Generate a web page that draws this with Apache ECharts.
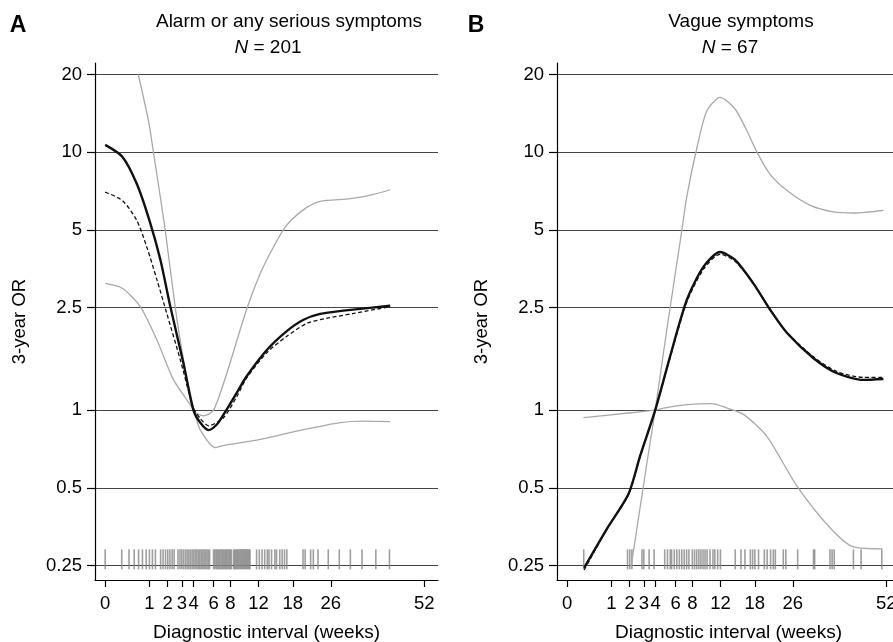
<!DOCTYPE html>
<html><head><meta charset="utf-8">
<script src="https://cdn.jsdelivr.net/npm/echarts@6/dist/echarts.min.js"></script>
<style>html,body{margin:0;padding:0;background:#fff}#c{width:893px;height:642px}</style>
</head><body><div id="c"></div>
<script>
// ---- tick labels ----
const xTickWeeks = [0, 1, 2, 3, 4, 6, 8, 12, 18, 26, 52];
const yTickOR = [0.25, 0.5, 1, 2.5, 5, 10, 20];

// ---- Panel A: Alarm or any serious symptoms (weeks, OR) ----
const aSolid = [[0,10.67],[0.15,9.6],[0.51,7.54],[1.0,5.44],[1.56,3.82],[2.17,2.52],[3.13,1.52],[3.98,1.0],[4.61,0.895],[5.45,0.837],[6.37,0.88],[7.15,0.96],[8.86,1.17],[10.2,1.35],[13.35,1.71],[16.8,2.02],[20.1,2.24],[23.6,2.36],[29,2.43],[41.5,2.54]];
const aDashed = [[0,7.0],[0.15,6.5],[0.51,5.44],[0.88,4.3],[1.37,3.2],[1.94,2.37],[2.88,1.57],[3.98,1.02],[4.61,0.93],[5.45,0.87],[7.15,0.935],[8.86,1.13],[10.2,1.33],[13.35,1.67],[16.8,1.93],[20.8,2.17],[25.1,2.27],[31.5,2.37],[41.5,2.52]];
const aUpper = [[0.56,20],[0.96,13.2],[1.19,10],[1.84,5.0],[2.5,2.52],[3.13,1.57],[3.98,1.0],[4.94,0.95],[6.0,1.0],[7.56,1.39],[10.2,2.45],[12.3,3.39],[14.5,4.3],[16.8,5.2],[20.4,6.04],[23.6,6.45],[30.7,6.6],[36.8,6.86],[41.5,7.15]];
const aLower = [[0,3.1],[0.15,2.97],[0.63,2.52],[1.37,1.87],[2.39,1.31],[3.98,1.0],[4.61,0.84],[6.2,0.716],[6.96,0.727],[12.3,0.77],[20.1,0.84],[28.2,0.895],[34.1,0.907],[41.5,0.902]];
const aRug = [0,0.14,0.29,0.43,0.57,0.71,0.86,1.0,1.14,1.29,1.57,1.71,
  1.86,2.0,2.14,2.29,2.43,2.71,2.86,3.0,3.14,3.29,3.43,3.57,3.71,3.86,4.0,4.14,4.29,4.43,4.57,4.71,4.86,5.0,5.14,5.29,5.43,5.57,
  6.0,6.14,6.29,6.43,6.57,6.71,6.86,7.0,7.14,7.29,7.43,7.57,7.71,7.86,8.0,8.14,8.43,8.57,8.71,8.86,9.0,9.14,9.29,9.43,9.57,9.71,9.86,10.0,10.14,10.29,10.43,10.57,10.71,
  11.71,12.14,12.57,13.0,13.43,13.71,14.14,14.71,15.0,15.57,16.0,16.43,16.86,20.0,20.43,21.57,22.14,23.14,25.43,28.0,30.71,33.71,37.43,41.29];

// ---- Panel B: Vague symptoms (weeks, OR) ----
const bSolid = [[0.148,0.245],[0.80,0.346],[1.92,0.473],[2.72,0.665],[3.96,1.0],[5.42,1.62],[7.3,2.67],[9.5,3.6],[11.96,4.1],[14.4,3.82],[17.7,3.1],[21.05,2.45],[24.7,1.99],[31,1.59],[37.2,1.39],[44.9,1.31],[51.1,1.32]];
const bDashed = [[0.148,0.24],[0.80,0.345],[1.92,0.47],[2.72,0.66],[3.96,1.0],[5.42,1.6],[7.3,2.62],[9.5,3.52],[11.96,4.02],[14.4,3.78],[17.7,3.1],[21.05,2.46],[24.7,2.0],[31,1.61],[37.2,1.41],[44.9,1.34],[51.1,1.34]];
const bUpper = [[2.09,0.248],[2.72,0.42],[3.35,0.67],[3.96,1.0],[5.07,2.05],[6.72,4.98],[7.3,6.7],[8.6,10.4],[9.98,14.5],[11.96,16.3],[14.4,14.7],[16.5,12.1],[18.4,10.0],[21.05,8.2],[24.7,7.1],[30.2,6.22],[36.2,5.87],[41.9,5.81],[51.1,5.95]];
const bLower = [[0.136,0.935],[2.03,0.977],[3.96,1.0],[4.9,1.02],[7.3,1.05],[10.7,1.06],[13.0,1.02],[15.9,0.963],[20.4,0.79],[26.9,0.51],[35.3,0.35],[41.9,0.295],[50.8,0.29]];
const bRug = [0.14,1.86,2.0,2.14,2.86,3.0,3.43,3.86,4.86,5.14,5.43,5.57,5.86,6.14,6.43,6.71,7.0,7.29,7.57,8.0,8.29,8.57,8.86,9.14,9.43,9.71,10.0,10.43,10.86,11.14,11.57,12.0,
  14.43,15.43,16.14,17.14,17.57,18.0,18.71,19.86,20.43,21.14,21.71,22.14,23.86,24.43,27.14,31.0,31.29,35.29,35.86,36.43,41.86,44.14,50.57];

// ---- transforms: sqrt for weeks, log2 for odds ratio ----
const tx = w => Math.sqrt(w);
const ty = v => Math.log2(v);
const pts = arr => arr.map(p => [tx(p[0]), ty(p[1])]);
const RUG_LEVEL = 0.264;
const rugPts = arr => arr.map(w => [tx(w), ty(RUG_LEVEL)]);

const FONT = "'Liberation Sans', Arial, Helvetica, sans-serif";
const GRAY = '#a9a9a9';

function xAxisCfg(gi) {
  return {
    type: 'value', gridIndex: gi, min: -0.23, max: 7.523,
    name: 'Diagnostic interval (weeks)', nameLocation: 'middle', nameGap: 43,
    nameTextStyle: { fontSize: 19, color: '#000', fontFamily: FONT },
    axisLine: { show: true, onZero: false, lineStyle: { color: '#000', width: 1.2 } },
    axisTick: { show: true, length: 7, customValues: xTickWeeks.map(tx), lineStyle: { color: '#000', width: 1.2 } },
    axisLabel: { customValues: xTickWeeks.map(tx), margin: 14, fontSize: 18.5, color: '#000', fontFamily: FONT,
      formatter: v => String(Math.round(v * v)) , hideOverlap: false },
    splitLine: { show: false }
  };
}
function yAxisCfg(gi) {
  return {
    type: 'value', gridIndex: gi, min: -2.187, max: 4.47,
    name: '3-year OR', nameLocation: 'middle', nameGap: 66,
    nameTextStyle: { fontSize: 18.5, color: '#000', fontFamily: FONT },
    axisLine: { show: true, onZero: false, lineStyle: { color: '#000', width: 1.2 } },
    axisTick: { show: true, length: 8, customValues: yTickOR.map(ty), lineStyle: { color: '#000', width: 1.2 } },
    axisLabel: { customValues: yTickOR.map(ty), margin: 13, fontSize: 18.5, color: '#000', fontFamily: FONT,
      formatter: v => { let best = yTickOR[0]; yTickOR.forEach(t => { if (Math.abs(ty(t) - v) < Math.abs(ty(best) - v)) best = t; }); return String(best); } },
    splitLine: { show: true, lineStyle: { color: '#444', width: 1.2 } }
  };
}
function lineS(data, gi, color, width, type) {
  return { type: 'line', xAxisIndex: gi, yAxisIndex: gi, data: pts(data), showSymbol: false, smooth: 0.25,
    lineStyle: { color, width, type }, silent: true, z: 3 };
}
function rugS(data, gi) {
  return { type: 'scatter', xAxisIndex: gi, yAxisIndex: gi, data: rugPts(data), symbol: 'rect', symbolSize: [1.6, 20],
    itemStyle: { color: '#878787' }, silent: true, z: 2 };
}
function txt(x, y, text, size, weight, rich) {
  return { type: 'text', x, y, silent: true, style: { text, fontSize: size, fontWeight: weight || 'normal', fontFamily: FONT,
    fill: '#000', align: 'center', verticalAlign: 'middle', textAlign: 'center', textVerticalAlign: 'middle', rich: rich || {} } };
}
const italicRich = { i: { fontStyle: 'italic', fontSize: 19, fontFamily: FONT, fill: '#000' } };

const chart = echarts.init(document.getElementById('c'), null, { renderer: 'canvas' });
chart.setOption({
  backgroundColor: '#fff',
  animation: false,
  grid: [
    { left: 95, top: 63, width: 343, height: 517, containLabel: false, outerBoundsMode: 'none' },
    { left: 557, top: 63, width: 343, height: 517, containLabel: false, outerBoundsMode: 'none' }
  ],
  xAxis: [xAxisCfg(0), xAxisCfg(1)],
  yAxis: [yAxisCfg(0), yAxisCfg(1)],
  graphic: [
    txt(18, 26, 'A', 23, 'bold'),
    txt(289, 21.5, 'Alarm or any serious symptoms', 19),
    txt(268, 47.5, '{i|N} = 201', 19, 'normal', italicRich),
    txt(476, 26, 'B', 23, 'bold'),
    txt(741, 21.5, 'Vague symptoms', 19),
    txt(730, 47.5, '{i|N} = 67', 19, 'normal', italicRich)
  ],
  series: [
    rugS(aRug, 0),
    lineS(aUpper, 0, GRAY, 1.3, 'solid'),
    lineS(aLower, 0, GRAY, 1.3, 'solid'),
    lineS(aDashed, 0, '#111', 1.3, [4, 2.5]),
    lineS(aSolid, 0, '#111', 2.4, 'solid'),
    rugS(bRug, 1),
    lineS(bUpper, 1, GRAY, 1.3, 'solid'),
    lineS(bLower, 1, GRAY, 1.3, 'solid'),
    lineS(bDashed, 1, '#111', 1.3, [4, 2.5]),
    lineS(bSolid, 1, '#111', 2.4, 'solid')
  ]
});
</script></body></html>
